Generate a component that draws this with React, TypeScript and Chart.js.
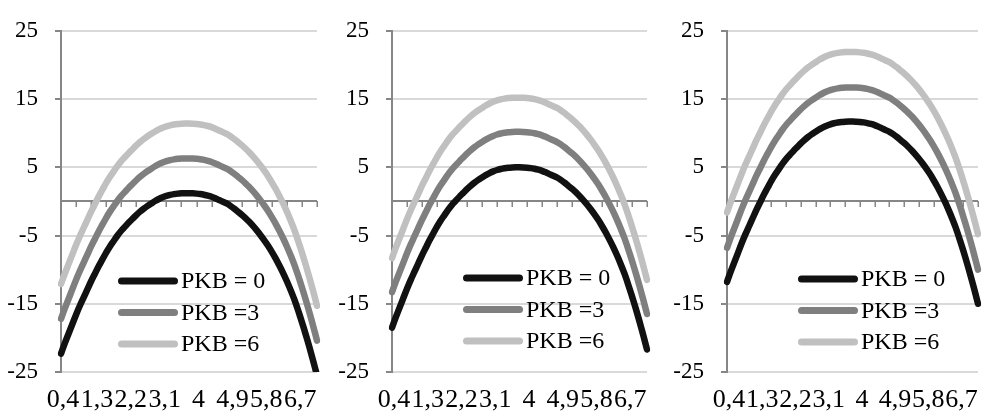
import React, { useEffect, useRef } from 'react';
import { Chart, registerables } from 'chart.js';

Chart.register(...registerables);

// ---------- data ----------
const X_LABELS = [
  '0,4', '0,5', '0,6', '0,7', '0,8', '0,9', '1', '1,1', '1,2', '1,3',
  '1,4', '1,5', '1,6', '1,7', '1,8', '1,9', '2', '2,1', '2,2', '2,3',
  '2,4', '2,5', '2,6', '2,7', '2,8', '2,9', '3', '3,1', '3,2', '3,3',
  '3,4', '3,5', '3,6', '3,7', '3,8', '3,9', '4', '4,1', '4,2', '4,3',
  '4,4', '4,5', '4,6', '4,7', '4,8', '4,9', '5', '5,1', '5,2', '5,3',
  '5,4', '5,5', '5,6', '5,7', '5,8', '5,9', '6', '6,1', '6,2', '6,3',
  '6,4', '6,5', '6,6', '6,7', '6,8', '6,9', '7', '7,1', '7,2',
];
const LABEL_EVERY = 9;
const TICK_EVERY = 4;
const Y_MIN = -25;
const Y_MAX = 25;
const Y_STEP = 10;

const SERIES_NAMES = ['PKB = 0', 'PKB =3', 'PKB =6'];

const P1_PKB0 = [-22.3,-20.8,-19.4,-18.0,-16.6,-15.3,-14.1,-12.9,-11.7,-10.6,-9.5,-8.5,-7.5,-6.6,-5.8,-5.0,-4.3,-3.7,-3.1,-2.55,-2.0,-1.5,-1.05,-0.65,-0.3,0.05,0.35,0.6,0.8,0.95,1.06,1.14,1.18,1.2,1.2,1.18,1.14,1.08,0.98,0.85,0.68,0.46,0.2,-0.05,-0.3,-0.65,-1.05,-1.5,-1.95,-2.45,-3.0,-3.6,-4.25,-4.95,-5.7,-6.5,-7.4,-8.35,-9.4,-10.5,-11.7,-13.0,-14.4,-16.0,-17.7,-19.5,-21.4,-23.4,-25.5];
const P1_PKB3 = [-17.2,-15.7,-14.3,-12.9,-11.5,-10.2,-9.0,-7.8,-6.6,-5.5,-4.4,-3.4,-2.4,-1.5,-0.7,0.1,0.8,1.4,2.0,2.55,3.1,3.6,4.05,4.45,4.8,5.15,5.45,5.7,5.9,6.05,6.16,6.24,6.28,6.3,6.3,6.28,6.24,6.18,6.08,5.95,5.78,5.56,5.3,5.05,4.8,4.45,4.05,3.6,3.15,2.65,2.1,1.5,0.85,0.15,-0.6,-1.4,-2.3,-3.25,-4.3,-5.4,-6.6,-7.9,-9.3,-10.9,-12.6,-14.4,-16.3,-18.3,-20.4];
const P1_PKB6 = [-12.1,-10.6,-9.2,-7.8,-6.4,-5.1,-3.9,-2.7,-1.5,-0.4,0.7,1.7,2.7,3.6,4.4,5.2,5.9,6.5,7.1,7.65,8.2,8.7,9.15,9.55,9.9,10.25,10.55,10.8,11.0,11.15,11.26,11.34,11.38,11.4,11.4,11.38,11.34,11.28,11.18,11.05,10.88,10.66,10.4,10.15,9.9,9.55,9.15,8.7,8.25,7.75,7.2,6.6,5.95,5.25,4.5,3.7,2.8,1.85,0.8,-0.3,-1.5,-2.8,-4.2,-5.8,-7.5,-9.3,-11.2,-13.2,-15.3];

const P2_PKB0 = [-18.5,-17.0,-15.6,-14.2,-12.8,-11.5,-10.3,-9.1,-7.9,-6.8,-5.7,-4.7,-3.7,-2.8,-2.0,-1.2,-0.5,0.1,0.7,1.25,1.8,2.3,2.75,3.15,3.5,3.85,4.15,4.4,4.6,4.75,4.86,4.94,4.98,5.0,5.0,4.98,4.94,4.88,4.78,4.65,4.48,4.26,4.0,3.75,3.5,3.15,2.75,2.3,1.85,1.35,0.8,0.2,-0.45,-1.15,-1.9,-2.7,-3.6,-4.55,-5.6,-6.7,-7.9,-9.2,-10.6,-12.2,-13.9,-15.7,-17.6,-19.6,-21.7];
const P2_PKB3 = [-13.3,-11.8,-10.4,-9.0,-7.6,-6.3,-5.1,-3.9,-2.7,-1.6,-0.5,0.5,1.5,2.4,3.2,4.0,4.7,5.3,5.9,6.45,7.0,7.5,7.95,8.35,8.7,9.05,9.35,9.6,9.8,9.95,10.06,10.14,10.18,10.2,10.2,10.18,10.14,10.08,9.98,9.85,9.68,9.46,9.2,8.95,8.7,8.35,7.95,7.5,7.05,6.55,6.0,5.4,4.75,4.05,3.3,2.5,1.6,0.65,-0.4,-1.5,-2.7,-4.0,-5.4,-7.0,-8.7,-10.5,-12.4,-14.4,-16.5];
const P2_PKB6 = [-8.3,-6.8,-5.4,-4.0,-2.6,-1.3,-0.1,1.1,2.3,3.4,4.5,5.5,6.5,7.4,8.2,9.0,9.7,10.3,10.9,11.45,12.0,12.5,12.95,13.35,13.7,14.05,14.35,14.6,14.8,14.95,15.06,15.14,15.18,15.2,15.2,15.18,15.14,15.08,14.98,14.85,14.68,14.46,14.2,13.95,13.7,13.35,12.95,12.5,12.05,11.55,11.0,10.4,9.75,9.05,8.3,7.5,6.6,5.65,4.6,3.5,2.3,1.0,-0.4,-2.0,-3.7,-5.5,-7.4,-9.4,-11.5];

const P3_PKB0 = [-11.8,-10.3,-8.9,-7.5,-6.1,-4.8,-3.6,-2.4,-1.2,-0.1,1.0,2.0,3.0,3.9,4.7,5.5,6.2,6.8,7.4,7.95,8.5,9.0,9.45,9.85,10.2,10.55,10.85,11.1,11.3,11.45,11.56,11.64,11.68,11.7,11.7,11.68,11.64,11.58,11.48,11.35,11.18,10.96,10.7,10.45,10.2,9.85,9.45,9.0,8.55,8.05,7.5,6.9,6.25,5.55,4.8,4.0,3.1,2.15,1.1,0.0,-1.2,-2.5,-3.9,-5.5,-7.2,-9.0,-10.9,-12.9,-15.0];
const P3_PKB3 = [-6.8,-5.3,-3.9,-2.5,-1.1,0.2,1.4,2.6,3.8,4.9,6.0,7.0,8.0,8.9,9.7,10.5,11.2,11.8,12.4,12.95,13.5,14.0,14.45,14.85,15.2,15.55,15.85,16.1,16.3,16.45,16.56,16.64,16.68,16.7,16.7,16.68,16.64,16.58,16.48,16.35,16.18,15.96,15.7,15.45,15.2,14.85,14.45,14.0,13.55,13.05,12.5,11.9,11.25,10.55,9.8,9.0,8.1,7.15,6.1,5.0,3.8,2.5,1.1,-0.5,-2.2,-4.0,-5.9,-7.9,-10.0];
const P3_PKB6 = [-1.6,-0.1,1.3,2.7,4.1,5.4,6.6,7.8,9.0,10.1,11.2,12.2,13.2,14.1,14.9,15.7,16.4,17.0,17.6,18.15,18.7,19.2,19.65,20.05,20.4,20.75,21.05,21.3,21.5,21.65,21.76,21.84,21.88,21.9,21.9,21.88,21.84,21.78,21.68,21.55,21.38,21.16,20.9,20.65,20.4,20.05,19.65,19.2,18.75,18.25,17.7,17.1,16.45,15.75,15.0,14.2,13.3,12.35,11.3,10.2,9.0,7.7,6.3,4.7,3.0,1.2,-0.7,-2.7,-4.8];

// ---------- styles / layout ----------
const SERIES_COLORS = ['#111111', '#7f7f7f', '#c0c0c0'];
const FONT_FAMILY = '"Liberation Serif", "Times New Roman", serif';
const Y_FONT_SIZE = 23;
const X_FONT_SIZE = 26;
const LEGEND_FONT_SIZE = 24;
const AXIS_COLOR = '#868686';
const GRID_COLOR = '#d9d9d9';
const CANVAS_H = 413;
const PLOT_TOP = 24;
const PLOT_BOTTOM = 372;

const PANELS = [
  { series: [P1_PKB0, P1_PKB3, P1_PKB6], offset: 0, width: 330, plotLeft: 61, plotRight: 322, legendX: 118, legendY: 281 },
  { series: [P2_PKB0, P2_PKB3, P2_PKB6], offset: 330, width: 330, plotLeft: 62, plotRight: 322, legendX: 133, legendY: 278 },
  { series: [P3_PKB0, P3_PKB3, P3_PKB6], offset: 660, width: 331, plotLeft: 67, plotRight: 328, legendX: 138, legendY: 279 },
];

type PanelCfg = typeof PANELS[number];

function Panel({ cfg }: { cfg: PanelCfg }) {
  const ref = useRef<HTMLCanvasElement | null>(null);

  useEffect(() => {
    if (!ref.current) return;

    const zeroAxis = {
      id: 'zeroAxis',
      beforeDatasetsDraw(chart: any) {
        const { ctx, chartArea } = chart;
        const xs = chart.scales.x;
        const ys = chart.scales.y;
        const y0 = Math.round(ys.getPixelForValue(0));
        ctx.save();
        ctx.strokeStyle = AXIS_COLOR;
        ctx.lineWidth = 2;
        ctx.beginPath();
        ctx.moveTo(chartArea.left, y0);
        ctx.lineTo(chartArea.right, y0);
        ctx.stroke();
        ctx.lineWidth = 1.5;
        ctx.beginPath();
        for (let i = 0; i < X_LABELS.length; i += TICK_EVERY) {
          const px = Math.round(xs.getPixelForValue(i)) + 0.25;
          ctx.moveTo(px, y0);
          ctx.lineTo(px, y0 + 6);
        }
        ctx.stroke();
        ctx.restore();
      },
    };

    const innerLegend = {
      id: 'innerLegend',
      afterDatasetsDraw(chart: any) {
        const { ctx } = chart;
        const rowGap = 31.5;
        const lineLen = 60;
        const lw = 7;
        ctx.save();
        chart.data.datasets.forEach((ds: any, i: number) => {
          const y = cfg.legendY + i * rowGap;
          ctx.strokeStyle = ds.borderColor;
          ctx.lineWidth = lw;
          ctx.lineCap = 'round';
          ctx.beginPath();
          ctx.moveTo(cfg.legendX + lw / 2, y);
          ctx.lineTo(cfg.legendX + lineLen - lw / 2, y);
          ctx.stroke();
          ctx.fillStyle = '#000000';
          ctx.font = `${LEGEND_FONT_SIZE}px ${FONT_FAMILY}`;
          ctx.textBaseline = 'middle';
          ctx.textAlign = 'left';
          ctx.fillText(ds.label, cfg.legendX + lineLen + 3, y + 1);
        });
        ctx.restore();
      },
    };

    const chart = new Chart(ref.current, {
      type: 'line',
      data: {
        labels: X_LABELS,
        datasets: cfg.series.map((values, i) => ({
          label: SERIES_NAMES[i],
          data: values,
          borderColor: SERIES_COLORS[i],
          backgroundColor: SERIES_COLORS[i],
          borderWidth: 6.5,
          pointRadius: 0,
          tension: 0.3,
          borderCapStyle: 'round' as const,
          borderJoinStyle: 'round' as const,
          fill: false,
        })),
      },
      options: {
        responsive: false,
        animation: false,
        events: [],
        layout: {
          padding: { top: PLOT_TOP, right: cfg.width - cfg.plotRight, left: 0, bottom: 0 },
        },
        plugins: {
          legend: { display: false },
          tooltip: { enabled: false },
          title: { display: false },
        },
        scales: {
          x: {
            type: 'category',
            offset: false,
            grid: { display: false, drawTicks: false },
            border: { display: false },
            afterFit: (scale: any) => { scale.height = CANVAS_H - PLOT_BOTTOM; },
            ticks: {
              autoSkip: false,
              maxRotation: 0,
              minRotation: 0,
              padding: 13,
              labelOffset: 2,
              color: '#000000',
              font: { family: FONT_FAMILY, size: X_FONT_SIZE },
              callback: (_v: any, idx: number) => (idx % LABEL_EVERY === 0 ? X_LABELS[idx] : ''),
            },
          },
          y: {
            type: 'linear',
            min: Y_MIN,
            max: Y_MAX,
            afterFit: (scale: any) => { scale.width = cfg.plotLeft; },
            grid: {
              color: GRID_COLOR,
              lineWidth: 2,
              tickColor: AXIS_COLOR,
              tickLength: 6,
              drawTicks: true,
            },
            border: { display: true, color: AXIS_COLOR, width: 2 },
            ticks: {
              stepSize: Y_STEP,
              padding: 17,
              color: '#000000',
              font: { family: FONT_FAMILY, size: Y_FONT_SIZE },
            },
          },
        },
      },
      plugins: [zeroAxis, innerLegend],
    } as any);

    return () => chart.destroy();
  }, [cfg]);

  return (
    <div style={{ position: 'absolute', left: cfg.offset, top: 0, width: cfg.width, height: CANVAS_H }}>
      <canvas ref={ref} width={cfg.width} height={CANVAS_H} style={{ display: 'block' }} />
    </div>
  );
}

export default function App() {
  return (
    <div style={{ position: 'absolute', left: 0, top: 0, width: 991, height: 413, background: '#ffffff', overflow: 'hidden' }}>
      {PANELS.map((p, i) => (
        <Panel key={i} cfg={p} />
      ))}
    </div>
  );
}
